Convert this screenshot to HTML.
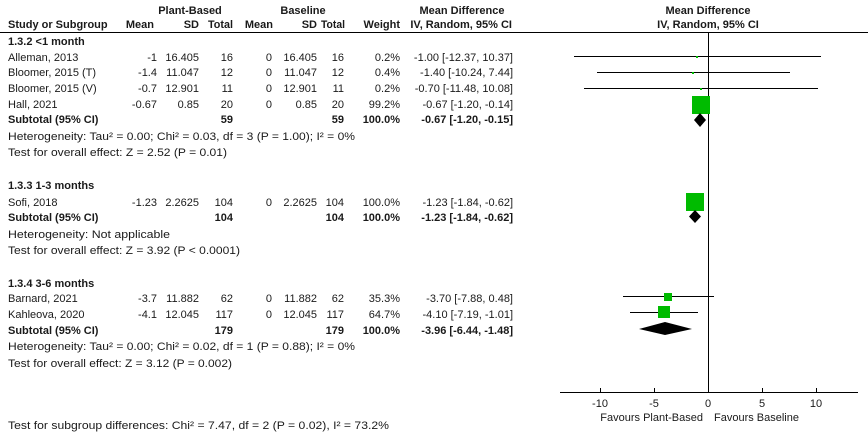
<!DOCTYPE html>
<html><head><style>
body{margin:0;background:#fff;width:868px;height:432px;overflow:hidden;font-family:"Liberation Sans",Arial,sans-serif;font-size:11px;color:#1a1a1a}
svg text{font-family:"Liberation Sans",Arial,sans-serif;font-size:11px;fill:#1a1a1a}
</style></head><body>
<svg width="868" height="432" xmlns="http://www.w3.org/2000/svg">
<g>
<text x="190" y="14" text-anchor="middle" font-weight="bold">Plant-Based</text>
<text x="303" y="14" text-anchor="middle" font-weight="bold">Baseline</text>
<text x="462" y="14" text-anchor="middle" font-weight="bold">Mean Difference</text>
<text x="708" y="14" text-anchor="middle" font-weight="bold">Mean Difference</text>
<text x="8" y="28" font-weight="bold">Study or Subgroup</text>
<text x="154" y="28" text-anchor="end" font-weight="bold">Mean</text>
<text x="199" y="28" text-anchor="end" font-weight="bold">SD</text>
<text x="208" y="28" font-weight="bold" textLength="25" lengthAdjust="spacingAndGlyphs">Total</text>
<text x="273" y="28" text-anchor="end" font-weight="bold">Mean</text>
<text x="317" y="28" text-anchor="end" font-weight="bold">SD</text>
<text x="321" y="28" font-weight="bold" textLength="24" lengthAdjust="spacingAndGlyphs">Total</text>
<text x="400" y="28" text-anchor="end" font-weight="bold">Weight</text>
<text x="512" y="28" text-anchor="end" font-weight="bold">IV, Random, 95% CI</text>
<text x="708" y="28" text-anchor="middle" font-weight="bold">IV, Random, 95% CI</text>
</g>
<line x1="0" y1="32.5" x2="868" y2="32.5" stroke="#000"/>
<line x1="708.5" y1="32" x2="708.5" y2="392" stroke="#000"/>

<text x="8" y="45" font-weight="bold">1.3.2 &lt;1 month</text>
<g>
<text x="8" y="61">Alleman, 2013</text><text x="157" y="61" text-anchor="end">-1</text><text x="199" y="61" text-anchor="end">16.405</text><text x="233" y="61" text-anchor="end">16</text><text x="272" y="61" text-anchor="end">0</text><text x="317" y="61" text-anchor="end">16.405</text><text x="344" y="61" text-anchor="end">16</text><text x="400" y="61" text-anchor="end">0.2%</text><text x="513" y="61" text-anchor="end">-1.00 [-12.37, 10.37]</text>
<text x="8" y="76">Bloomer, 2015 (T)</text><text x="157" y="76" text-anchor="end">-1.4</text><text x="199" y="76" text-anchor="end">11.047</text><text x="233" y="76" text-anchor="end">12</text><text x="272" y="76" text-anchor="end">0</text><text x="317" y="76" text-anchor="end">11.047</text><text x="344" y="76" text-anchor="end">12</text><text x="400" y="76" text-anchor="end">0.4%</text><text x="513" y="76" text-anchor="end">-1.40 [-10.24, 7.44]</text>
<text x="8" y="92">Bloomer, 2015 (V)</text><text x="157" y="92" text-anchor="end">-0.7</text><text x="199" y="92" text-anchor="end">12.901</text><text x="233" y="92" text-anchor="end">11</text><text x="272" y="92" text-anchor="end">0</text><text x="317" y="92" text-anchor="end">12.901</text><text x="344" y="92" text-anchor="end">11</text><text x="400" y="92" text-anchor="end">0.2%</text><text x="513" y="92" text-anchor="end">-0.70 [-11.48, 10.08]</text>
<text x="8" y="108">Hall, 2021</text><text x="157" y="108" text-anchor="end">-0.67</text><text x="199" y="108" text-anchor="end">0.85</text><text x="233" y="108" text-anchor="end">20</text><text x="272" y="108" text-anchor="end">0</text><text x="317" y="108" text-anchor="end">0.85</text><text x="344" y="108" text-anchor="end">20</text><text x="400" y="108" text-anchor="end">99.2%</text><text x="513" y="108" text-anchor="end">-0.67 [-1.20, -0.14]</text>
<text x="8" y="123" font-weight="bold">Subtotal (95% CI)</text><text x="233" y="123" text-anchor="end" font-weight="bold">59</text><text x="344" y="123" text-anchor="end" font-weight="bold">59</text><text x="400" y="123" text-anchor="end" font-weight="bold">100.0%</text><text x="513" y="123" text-anchor="end" font-weight="bold">-0.67 [-1.20, -0.15]</text>
<text x="8" y="140" textLength="347" lengthAdjust="spacingAndGlyphs">Heterogeneity: Tau² = 0.00; Chi² = 0.03, df = 3 (P = 1.00); I² = 0%</text>
<text x="8" y="156" textLength="219" lengthAdjust="spacingAndGlyphs">Test for overall effect: Z = 2.52 (P = 0.01)</text>

<text x="8" y="189" font-weight="bold">1.3.3 1-3 months</text>
<text x="8" y="206">Sofi, 2018</text><text x="157" y="206" text-anchor="end">-1.23</text><text x="199" y="206" text-anchor="end">2.2625</text><text x="233" y="206" text-anchor="end">104</text><text x="272" y="206" text-anchor="end">0</text><text x="317" y="206" text-anchor="end">2.2625</text><text x="344" y="206" text-anchor="end">104</text><text x="400" y="206" text-anchor="end">100.0%</text><text x="513" y="206" text-anchor="end">-1.23 [-1.84, -0.62]</text>
<text x="8" y="221" font-weight="bold">Subtotal (95% CI)</text><text x="233" y="221" text-anchor="end" font-weight="bold">104</text><text x="344" y="221" text-anchor="end" font-weight="bold">104</text><text x="400" y="221" text-anchor="end" font-weight="bold">100.0%</text><text x="513" y="221" text-anchor="end" font-weight="bold">-1.23 [-1.84, -0.62]</text>
<text x="8" y="238" textLength="162" lengthAdjust="spacingAndGlyphs">Heterogeneity: Not applicable</text>
<text x="8" y="254" textLength="232" lengthAdjust="spacingAndGlyphs">Test for overall effect: Z = 3.92 (P &lt; 0.0001)</text>

<text x="8" y="287" font-weight="bold">1.3.4 3-6 months</text>
<text x="8" y="302">Barnard, 2021</text><text x="157" y="302" text-anchor="end">-3.7</text><text x="199" y="302" text-anchor="end">11.882</text><text x="233" y="302" text-anchor="end">62</text><text x="272" y="302" text-anchor="end">0</text><text x="317" y="302" text-anchor="end">11.882</text><text x="344" y="302" text-anchor="end">62</text><text x="400" y="302" text-anchor="end">35.3%</text><text x="513" y="302" text-anchor="end">-3.70 [-7.88, 0.48]</text>
<text x="8" y="318">Kahleova, 2020</text><text x="157" y="318" text-anchor="end">-4.1</text><text x="199" y="318" text-anchor="end">12.045</text><text x="233" y="318" text-anchor="end">117</text><text x="272" y="318" text-anchor="end">0</text><text x="317" y="318" text-anchor="end">12.045</text><text x="344" y="318" text-anchor="end">117</text><text x="400" y="318" text-anchor="end">64.7%</text><text x="513" y="318" text-anchor="end">-4.10 [-7.19, -1.01]</text>
<text x="8" y="334" font-weight="bold">Subtotal (95% CI)</text><text x="233" y="334" text-anchor="end" font-weight="bold">179</text><text x="344" y="334" text-anchor="end" font-weight="bold">179</text><text x="400" y="334" text-anchor="end" font-weight="bold">100.0%</text><text x="513" y="334" text-anchor="end" font-weight="bold">-3.96 [-6.44, -1.48]</text>
<text x="8" y="350" textLength="347" lengthAdjust="spacingAndGlyphs">Heterogeneity: Tau² = 0.00; Chi² = 0.02, df = 1 (P = 0.88); I² = 0%</text>
<text x="8" y="367" textLength="224" lengthAdjust="spacingAndGlyphs">Test for overall effect: Z = 3.12 (P = 0.002)</text>

<text x="8" y="429" textLength="381" lengthAdjust="spacingAndGlyphs">Test for subgroup differences: Chi² = 7.47, df = 2 (P = 0.02), I² = 73.2%</text>
</g>

<g stroke="#000" stroke-width="1">
<line x1="574" y1="56.5" x2="821" y2="56.5"/>
<line x1="597" y1="72.5" x2="790" y2="72.5"/>
<line x1="584" y1="88.5" x2="818" y2="88.5"/>
<line x1="623" y1="296.5" x2="714" y2="296.5"/>
<line x1="630" y1="312.5" x2="698" y2="312.5"/>
</g>
<g fill="#00bb00">
<rect x="696" y="56" width="2" height="2"/>
<rect x="692" y="72" width="2" height="2"/>
<rect x="700" y="88" width="2" height="2"/>
<rect x="692" y="96" width="18" height="18"/>
<rect x="686" y="193" width="18" height="18"/>
<rect x="664" y="293" width="8" height="8"/>
<rect x="658" y="306" width="12" height="12"/>
</g>
<g fill="#000">
<polygon points="700,113 706,120 700,127 694,120"/>
<polygon points="695,210 701,216.5 695,223 689,216.5"/>
<polygon points="639,329 665,322 692,329 665,335"/>
</g>
<line x1="560" y1="392.5" x2="858" y2="392.5" stroke="#000"/>
<g stroke="#000">
<line x1="600.5" y1="388" x2="600.5" y2="392"/>
<line x1="654.5" y1="388" x2="654.5" y2="392"/>
<line x1="762.5" y1="388" x2="762.5" y2="392"/>
<line x1="816.5" y1="388" x2="816.5" y2="392"/>
</g>
<g text-anchor="middle">
<text x="600" y="407">-10</text><text x="654" y="407">-5</text><text x="708" y="407">0</text><text x="762" y="407">5</text><text x="816" y="407">10</text>
</g>
<text x="703" y="421" text-anchor="end">Favours Plant-Based</text>
<text x="714" y="421">Favours Baseline</text>
</svg>
</body></html>
